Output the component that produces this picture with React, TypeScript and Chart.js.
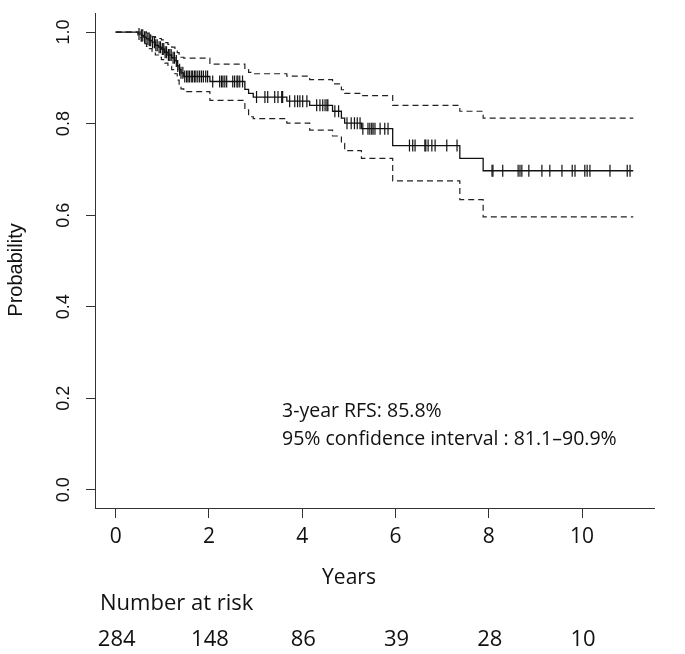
import React, { useEffect, useRef } from "react";
import { Chart, registerables } from "chart.js";

Chart.register(...registerables);

// Kaplan-Meier step data (event times, survival and 95% CI)
const eventTimes = [0, 0.48, 0.55, 0.6, 0.66, 0.72, 0.78, 0.85, 0.92, 0.98, 1.05, 1.12, 1.2, 1.27, 1.32, 1.36, 1.4, 1.46, 2.02, 2.77, 2.85, 2.95, 3.67, 4.16, 4.65, 4.84, 4.91, 5.27, 5.94, 7.38, 7.88, 11.1];
const survival = [1, 0.996, 0.993, 0.989, 0.985, 0.982, 0.978, 0.971, 0.967, 0.963, 0.956, 0.95, 0.944, 0.937, 0.926, 0.918, 0.911, 0.903, 0.892, 0.875, 0.866, 0.858, 0.849, 0.84, 0.827, 0.812, 0.801, 0.789, 0.752, 0.724, 0.697, 0.697];
const upperCI = [1, 1, 1, 1, 0.998, 0.994, 0.99, 0.988, 0.986, 0.983, 0.977, 0.973, 0.967, 0.962, 0.955, 0.95, 0.945, 0.943, 0.93, 0.918, 0.912, 0.909, 0.904, 0.896, 0.887, 0.874, 0.866, 0.861, 0.84, 0.827, 0.812, 0.812];
const lowerCI = [1, 0.988, 0.98, 0.975, 0.969, 0.964, 0.958, 0.95, 0.945, 0.94, 0.932, 0.925, 0.918, 0.909, 0.895, 0.885, 0.876, 0.87, 0.851, 0.83, 0.815, 0.811, 0.801, 0.786, 0.773, 0.757, 0.741, 0.724, 0.675, 0.634, 0.596, 0.596];

// Censoring times
const censorTimes = [
  0.5, 0.55, 0.58, 0.62, 0.65, 0.69, 0.72, 0.75, 0.79, 0.83, 0.86, 0.89, 0.93, 0.96, 1.0, 1.03, 1.06, 1.09, 1.13, 1.16, 1.19, 1.23, 1.26, 1.3, 1.33, 1.37, 1.4, 1.44,
  1.48, 1.52, 1.55, 1.58, 1.62, 1.65, 1.69, 1.72, 1.76, 1.8, 1.84, 1.88, 1.93, 1.97,
  2.08, 2.23, 2.27, 2.3, 2.34, 2.38, 2.51, 2.55, 2.6, 2.62, 2.66, 2.72,
  3.02, 3.2, 3.26, 3.41, 3.48, 3.56, 3.58,
  3.73, 3.84, 3.9, 3.95, 4.01, 4.1,
  4.31, 4.38, 4.44, 4.49, 4.53, 4.55, 4.7, 4.78,
  4.96, 5.05, 5.12, 5.18, 5.24,
  5.3, 5.41, 5.45, 5.49, 5.52, 5.56, 5.67, 5.77, 5.84,
  6.3, 6.37, 6.42, 6.63, 6.65, 6.7, 6.78, 6.85, 7.1, 7.32,
  8.07, 8.09, 8.3, 8.63, 8.67, 8.71, 8.86, 9.14, 9.31, 9.57, 9.79, 9.85, 10.06, 10.11, 10.17, 10.6, 10.97, 11.03,
];

const yTickDecimals = 1;
const riskTimes = [0, 2, 4, 6, 8, 10];
const riskCounts = [284, 148, 86, 39, 28, 10];
const annotationLines = ["3-year RFS: 85.8%", "95% confidence interval : 81.1\u201390.9%"];
const xTitle = "Years";
const yTitle = "Probability";
const riskTitle = "Number at risk";

function survivalAt(t: number): number {
  let s = survival[0];
  for (let i = 0; i < eventTimes.length; i++) {
    if (eventTimes[i] <= t) s = survival[i];
  }
  return s;
}

const SANS = "'Open Sans', 'Noto Sans', sans-serif";
const ARIAL = "'Liberation Sans', Arial, sans-serif";

const textPlugin = {
  id: "kmText",
  afterDraw(chart: any) {
    const ctx = chart.ctx;
    const yScale = chart.scales.y;
    const xScale = chart.scales.x;
    ctx.save();
    ctx.fillStyle = "#111";
    // rotated y tick labels
    ctx.font = `18px ${ARIAL}`;
    ctx.textAlign = "center";
    ctx.textBaseline = "middle";
    for (const tk of yScale.ticks) {
      const y = yScale.getPixelForValue(tk.value);
      ctx.save();
      ctx.translate(64, y);
      ctx.rotate(-Math.PI / 2);
      ctx.fillText(Number(tk.value).toFixed(yTickDecimals), 0, 0);
      ctx.restore();
    }
    // y title
    ctx.font = `20px ${ARIAL}`;
    ctx.save();
    ctx.translate(16, 270);
    ctx.rotate(-Math.PI / 2);
    ctx.fillText(yTitle, 0, 0);
    ctx.restore();
    // x title
    ctx.font = `21px ${SANS}`;
    ctx.fillText(xTitle, 349, 578);
    // number at risk
    ctx.font = `22px ${SANS}`;
    ctx.textAlign = "left";
    ctx.fillText(riskTitle, 100, 604);
    ctx.textAlign = "center";
    riskTimes.forEach((t, i) => {
      ctx.fillText(String(riskCounts[i]), xScale.getPixelForValue(t) + 1, 640);
    });
    // annotation
    ctx.font = `19.5px ${SANS}`;
    ctx.textAlign = "left";
    ctx.fillText(annotationLines[0], 282, 411);
    ctx.fillText(annotationLines[1], 282, 439);
    ctx.restore();
  },
};

export default function App() {
  const ref = useRef<HTMLCanvasElement>(null);
  useEffect(() => {
    if (!ref.current) return;
    const mk = (ys: number[]) => eventTimes.map((t, i) => ({ x: t, y: ys[i] }));
    const chart = new Chart(ref.current, {
      type: "scatter",
      data: {
        datasets: [
          {
            data: mk(upperCI),
            showLine: true,
            stepped: "before",
            borderColor: "#222",
            borderWidth: 1.2,
            borderDash: [6, 4],
            pointRadius: 0,
          },
          {
            data: mk(lowerCI),
            showLine: true,
            stepped: "before",
            borderColor: "#222",
            borderWidth: 1.2,
            borderDash: [6, 4],
            pointRadius: 0,
          },
          {
            data: mk(survival),
            showLine: true,
            stepped: "before",
            borderColor: "#111",
            borderWidth: 1.3,
            pointRadius: 0,
          },
          {
            data: censorTimes.map((t) => ({ x: t, y: survivalAt(t) })),
            showLine: false,
            pointStyle: "line",
            rotation: 90,
            pointRadius: 6,
            pointBorderWidth: 1.2,
            pointBorderColor: "#111",
            pointBackgroundColor: "#111",
          } as any,
        ],
      },
      options: {
        responsive: false,
        animation: false,
        devicePixelRatio: 1,
        layout: { padding: { left: 0, top: 4, right: 31, bottom: 0 } },
        plugins: { legend: { display: false }, tooltip: { enabled: false } },
        scales: {
          x: {
            type: "linear",
            min: -0.444,
            max: 11.544,
            afterFit: (s: any) => {
              s.height = 146;
            },
            border: { display: true, color: "#333", width: 1 },
            grid: { drawOnChartArea: false, drawTicks: true, tickLength: 10, color: "#333" },
            ticks: {
              stepSize: 2,
              includeBounds: false,
              autoSkip: false,
              maxRotation: 0,
              padding: 6,
              color: "#111",
              font: { family: SANS, size: 21 },
              callback: (v: any) => String(v),
            },
          },
          y: {
            type: "linear",
            min: -0.04,
            max: 1.04,
            afterFit: (s: any) => {
              s.width = 95;
            },
            border: { display: true, color: "#333", width: 1 },
            grid: { drawOnChartArea: false, drawTicks: true, tickLength: 9, color: "#333" },
            ticks: {
              stepSize: 0.2,
              includeBounds: false,
              color: "rgba(0,0,0,0)",
              font: { family: ARIAL, size: 18 },
              callback: (v: any) => Number(v).toFixed(yTickDecimals),
            },
          },
        },
      },
      plugins: [textPlugin],
    });
    return () => chart.destroy();
  }, []);
  return (
    <div style={{ position: "fixed", left: 0, top: 0, width: 685, height: 654, background: "#fff" }}>
      <canvas ref={ref} width={685} height={654} />
    </div>
  );
}
